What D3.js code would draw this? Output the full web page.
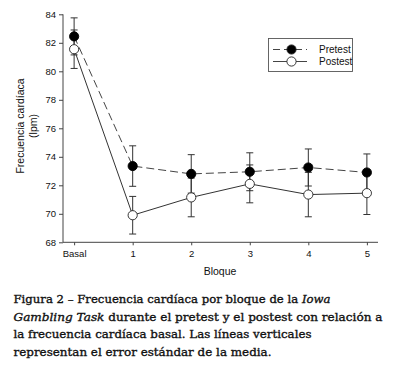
<!DOCTYPE html>
<html>
<head>
<meta charset="utf-8">
<script src="https://cdn.jsdelivr.net/npm/d3@7"></script>
<style>
  body { margin: 0; background: #fff; }
  svg { display: block; }
</style>
</head>
<body>
<div id="chart"></div>
<script>
var categories = ['Basal', '1', '2', '3', '4', '5']
var pretest = [82.45, 73.35, 72.8, 72.95, 73.25, 72.9]
var pretest_err = [1.3, 1.42, 1.35, 1.33, 1.3, 1.3]
var postest = [81.55, 69.9, 71.15, 72.1, 71.35, 71.45]
var postest_err = [1.35, 1.32, 1.36, 1.33, 1.56, 1.5]
var y_ticks = [68, 70, 72, 74, 76, 78, 80, 82, 84]
var series_names = ['Pretest', 'Postest']

var w = 397
var h = 368

var svg = d3.select('#chart').append('svg')
  .attr('width', w)
  .attr('height', h)

var x = d3.scaleLinear().domain([-0.19, 5.19]).range([63, 378])
var y = d3.scaleLinear().domain([68, 84]).range([242.3, 14.3])

var axis_color = '#444'
var font = 'Arial, "Liberation Sans", sans-serif'

// y axis
var y_axis = svg.append('g')
  .attr('transform', 'translate(63,0)')
  .call(d3.axisLeft(y).tickValues(y_ticks).tickSize(4).tickPadding(3).tickFormat(d3.format('d')))
y_axis.select('.domain').attr('stroke', axis_color).attr('d', 'M0,' + y(84) + 'V' + y(68))
y_axis.selectAll('.tick line').attr('stroke', axis_color)
y_axis.selectAll('.tick text').style('font-family', font).style('font-size', '9.5px').attr('fill', '#111')

// x axis
var x_axis = svg.append('g')
  .attr('transform', 'translate(0,242.3)')
  .call(d3.axisBottom(x).tickValues(d3.range(categories.length)).tickSize(3).tickPadding(5)
    .tickFormat(function (d) { return categories[d] }))
x_axis.select('.domain').attr('stroke', axis_color).attr('d', 'M63,0H378')
x_axis.selectAll('.tick line').attr('stroke', axis_color)
x_axis.selectAll('.tick text').style('font-family', font).style('font-size', '9.5px').attr('fill', '#111')

// axis titles
svg.append('text')
  .attr('transform', 'translate(24,126) rotate(-90)')
  .attr('text-anchor', 'middle')
  .style('font-family', font).style('font-size', '10.5px').attr('fill', '#111')
  .text('Frecuencia cardíaca')
svg.append('text')
  .attr('transform', 'translate(37,126) rotate(-90)')
  .attr('text-anchor', 'middle')
  .style('font-family', font).style('font-size', '10.5px').attr('fill', '#111')
  .text('(lpm)')
svg.append('text')
  .attr('x', 220).attr('y', 275)
  .attr('text-anchor', 'middle')
  .style('font-family', font).style('font-size', '10.5px').attr('fill', '#111')
  .text('Bloque')

// error bars
function error_bars (values, errs) {
  var cap = 3.5
  values.forEach(function (v, i) {
    var g = svg.append('g').attr('stroke', '#333').attr('stroke-width', 1)
    var cx = x(i)
    g.append('line').attr('x1', cx).attr('x2', cx).attr('y1', y(v - errs[i])).attr('y2', y(v + errs[i]))
    g.append('line').attr('x1', cx - cap).attr('x2', cx + cap).attr('y1', y(v + errs[i])).attr('y2', y(v + errs[i]))
    g.append('line').attr('x1', cx - cap).attr('x2', cx + cap).attr('y1', y(v - errs[i])).attr('y2', y(v - errs[i]))
  })
}
error_bars(postest, postest_err)
error_bars(pretest, pretest_err)

var line = d3.line()
  .x(function (d, i) { return x(i) })
  .y(function (d) { return y(d) })

svg.append('path').datum(postest)
  .attr('d', line)
  .attr('fill', 'none')
  .attr('stroke', '#333')
  .attr('stroke-width', 1)

svg.append('path').datum(pretest)
  .attr('d', line)
  .attr('fill', 'none')
  .attr('stroke', '#444')
  .attr('stroke-width', 1)
  .attr('stroke-dasharray', '8,4')

svg.selectAll('circle.post').data(postest).enter().append('circle')
  .attr('class', 'post')
  .attr('cx', function (d, i) { return x(i) })
  .attr('cy', function (d) { return y(d) })
  .attr('r', 4.6)
  .attr('fill', '#fff')
  .attr('stroke', '#222')
  .attr('stroke-width', 0.9)

svg.selectAll('circle.pre').data(pretest).enter().append('circle')
  .attr('class', 'pre')
  .attr('cx', function (d, i) { return x(i) })
  .attr('cy', function (d) { return y(d) })
  .attr('r', 4.6)
  .attr('fill', '#000')
  .attr('stroke', '#000')
  .attr('stroke-width', 0.9)

// legend
var legend = svg.append('g')
legend.append('rect')
  .attr('x', 268.5).attr('y', 38.5).attr('width', 84).attr('height', 33)
  .attr('fill', '#fff').attr('stroke', '#555').attr('stroke-width', 0.9)
series_names.forEach(function (name, idx) {
  var ly = 49.5 + idx * 12
  legend.append('line')
    .attr('x1', 273).attr('x2', 307).attr('y1', ly).attr('y2', ly)
    .attr('stroke', '#444').attr('stroke-width', 1)
    .attr('stroke-dasharray', idx === 0 ? '7,4' : null)
  legend.append('circle')
    .attr('cx', 291.5).attr('cy', ly).attr('r', 4.6)
    .attr('fill', idx === 0 ? '#000' : '#fff')
    .attr('stroke', '#222').attr('stroke-width', 0.9)
  legend.append('text')
    .attr('x', 319).attr('y', ly).attr('dy', '0.35em')
    .style('font-family', font).style('font-size', '10px').attr('fill', '#111')
    .text(name)
})

// caption, with the widths of its lines
var caption = [
  [['Figura 2 – Frecuencia cardíaca por bloque de la ', false], ['Iowa', true]],
  [['Gambling Task', true], [' durante el pretest y el postest con relación a', false]],
  [['la frecuencia cardíaca basal. Las líneas verticales', false]],
  [['representan el error estándar de la media.', false]]
]
var caption_widths = [317, 369, 298, 258]
caption.forEach(function (parts, idx) {
  var t = svg.append('text')
    .attr('x', 13.5).attr('y', 303.3 + idx * 17.5)
    .attr('textLength', caption_widths[idx])
    .attr('lengthAdjust', 'spacingAndGlyphs')
    .style('font-family', '"DejaVu Serif", serif')
    .style('font-size', '11.5px')
    .attr('fill', '#111')
    .attr('stroke', '#111')
    .attr('stroke-width', 0.35)
  parts.forEach(function (p) {
    t.append('tspan').text(p[0]).style('font-style', p[1] ? 'italic' : 'normal')
  })
})
</script>
</body>
</html>
